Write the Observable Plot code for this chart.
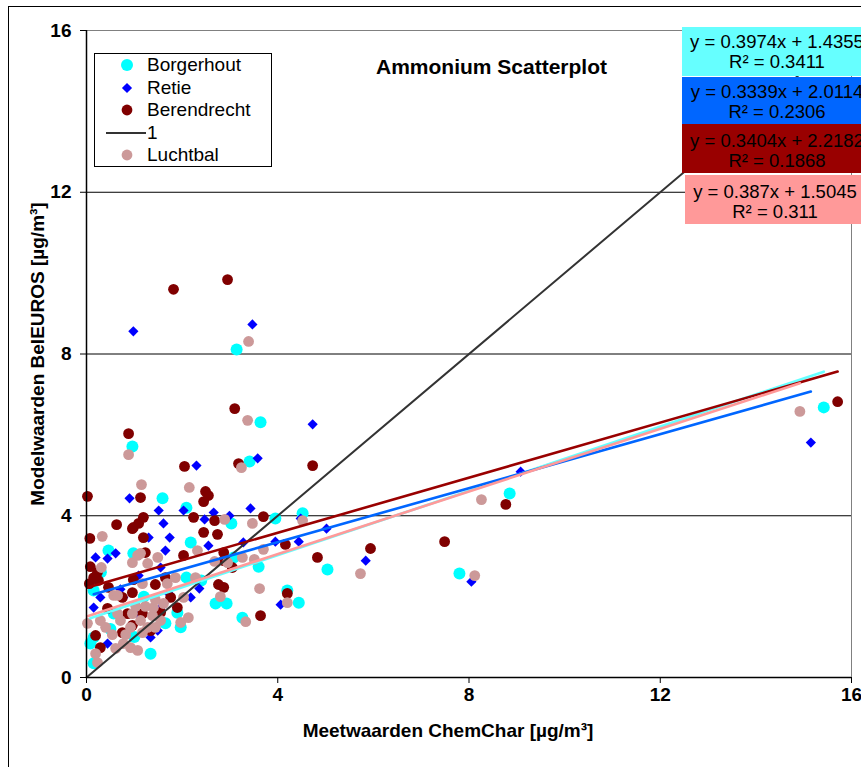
<!DOCTYPE html>
<html><head><meta charset="utf-8">
<script src="https://cdn.jsdelivr.net/npm/d3@7"></script>
<script src="https://cdn.jsdelivr.net/npm/@observablehq/plot@0.6"></script>
<style>
html,body{margin:0;padding:0;background:#fff;overflow:hidden;}
#wrap{position:relative;width:861px;height:767px;overflow:hidden;font-family:"Liberation Sans",Arial,sans-serif;}
#frame{position:absolute;left:8px;top:6px;width:900px;height:800px;border:1px solid #000;box-sizing:border-box;}
#chart{position:absolute;left:0;top:0;}
#title{position:absolute;left:376px;top:55px;font-weight:bold;font-size:21px;white-space:nowrap;}
#legend{position:absolute;left:94px;top:53px;width:178px;height:114px;border:1px solid #000;box-sizing:border-box;background:#fff;padding-top:0px;}
.lrow{height:22.5px;display:flex;align-items:center;font-size:19px;white-space:nowrap;}
.lrow svg{flex:none;}
.eq{position:absolute;text-align:center;font-size:18.5px;line-height:20px;padding-top:5px;box-sizing:border-box;white-space:nowrap;color:#000;}
</style>
</head><body>
<div id="wrap">
  <div id="frame"></div>
  <div id="chart"></div>
  <div id="title"></div>
  <div id="legend"></div>
</div>
<script>
// ---------- data ----------
const chartTitle = "Ammonium Scatterplot";
const xLabel = "Meetwaarden ChemChar [µg/m³]";
const yLabel = "Modelwaarden BelEUROS [µg/m³]";
const xTicks = [0, 4, 8, 12, 16];
const yTicks = [0, 4, 8, 12, 16];
const gridY = [4, 8, 12];
const identityRange = [0, 16]; // series "1": y = x

const seriesNames = ["Borgerhout", "Retie", "Berendrecht", "Luchtbal"];
const dotColors = ["#00ffff", "#0000ff", "#800000", "#cc9999"];
const lineColors = ["#66ffff", "#0066ff", "#990000", "#ff9999"];
const slopes = [0.3974, 0.3339, 0.3404, 0.387];
const intercepts = [1.4355, 2.0114, 2.2182, 1.5045];
const rSquared = ["0.3411", "0.2306", "0.1868", "0.311"];

const borgerhout = [[3.14,8.11],[3.64,6.31],[0.96,5.71],[3.41,5.34],[1.59,4.43],[2.09,4.2],[3.03,3.81],[3.95,3.93],[4.52,4.06],[15.42,6.68],[8.85,4.55],[7.8,2.57],[5.04,2.67],[2.18,3.34],[0.46,3.14],[0.98,3.07],[3.08,2.97],[3.6,2.74],[0.15,2.15],[2.7,1.83],[2.93,1.83],[3.26,1.48],[4.2,2.15],[4.44,1.85],[0.15,0.99],[1.34,0.59],[0.08,0.84],[0.15,0.35],[1.65,1.34],[2.09,2.47],[0.57,1.58],[0.5,1.2],[1.0,1.0],[1.9,1.6],[2.4,2.4],[0.3,2.6],[1.2,2.0],[1.97,1.24]];
const retie = [[0.98,8.56],[3.47,8.73],[4.73,6.26],[2.3,5.24],[3.58,5.42],[0.9,4.43],[2.03,4.13],[1.51,4.13],[1.61,3.81],[2.47,3.91],[2.66,4.08],[2.99,4.0],[3.43,4.18],[4.48,3.93],[15.15,5.81],[9.08,5.09],[8.05,2.37],[5.02,3.68],[5.84,2.89],[4.06,1.8],[1.3,3.46],[1.74,3.46],[2.55,3.26],[3.28,3.34],[3.95,3.36],[4.44,3.36],[0.61,3.07],[0.19,2.97],[0.44,2.94],[1.65,3.14],[0.71,2.18],[1.09,2.52],[2.18,1.98],[2.36,2.2],[0.15,1.73],[0.77,1.98],[1.61,1.83],[1.49,1.16],[1.34,0.99],[0.44,0.84],[1.55,1.73],[1.72,2.08],[1.07,1.58],[1.55,2.72],[0.29,1.98]];
const berendrecht = [[1.82,9.6],[2.95,9.84],[3.1,6.65],[0.88,6.03],[2.05,5.22],[3.18,5.29],[4.73,5.24],[0.02,4.48],[1.13,4.45],[2.49,4.6],[2.55,4.5],[2.45,4.35],[0.63,3.78],[0.98,3.71],[1.09,3.81],[1.19,3.96],[2.24,3.96],[2.68,3.88],[3.7,3.98],[15.71,6.82],[8.77,4.28],[7.49,3.36],[4.83,2.97],[5.94,3.19],[3.64,1.53],[4.2,2.08],[0.07,3.44],[0.96,3.68],[1.19,3.46],[2.45,3.59],[2.74,3.54],[4.16,3.29],[1.23,3.09],[2.03,3.02],[2.87,3.09],[2.87,2.89],[3.05,2.72],[0.08,2.74],[0.15,2.47],[0.23,2.6],[0.25,2.4],[0.46,2.23],[0.98,2.42],[1.44,2.3],[1.65,2.47],[1.9,1.73],[2.76,2.3],[2.87,2.23],[0.75,1.98],[0.86,1.58],[0.96,1.29],[0.75,1.11],[0.29,0.74],[0.19,1.04],[1.17,1.58],[1.76,1.98],[1.55,1.61],[0.44,1.71],[0.96,2.1],[1.34,1.16],[0.06,2.32]];
const luchtbal = [[3.39,8.31],[3.37,6.36],[0.88,5.51],[3.24,5.19],[1.15,4.77],[2.15,4.7],[2.89,3.91],[3.47,3.81],[4.52,3.88],[14.92,6.58],[8.26,4.4],[8.12,2.52],[5.73,2.57],[0.33,3.49],[1.13,3.07],[1.49,2.97],[0.96,2.84],[1.28,2.82],[2.32,3.14],[2.68,2.87],[2.95,2.84],[3.26,2.97],[3.51,2.92],[3.7,3.17],[0.31,2.72],[0.57,2.03],[1.17,2.32],[1.69,2.32],[1.86,2.47],[2.03,1.98],[2.28,2.47],[2.8,2.0],[3.33,1.38],[3.62,2.2],[4.2,1.85],[0.23,0.37],[0.19,0.59],[0.02,1.34],[0.29,1.41],[0.4,1.24],[0.54,1.06],[0.61,0.72],[0.77,0.84],[0.82,1.06],[0.92,0.74],[1.07,0.67],[0.71,1.41],[0.65,1.58],[0.92,1.24],[1.13,1.41],[1.17,1.11],[1.28,1.24],[1.38,1.53],[1.4,1.73],[1.23,1.76],[0.96,1.58],[1.03,1.76],[1.44,1.24],[1.55,1.41],[1.61,1.83],[1.97,1.36],[2.13,1.48],[0.65,2.03],[1.44,1.93],[1.07,3.02]];

const seriesData = [borgerhout, retie, berendrecht, luchtbal];
const symbols = ["circle", "diamond2", "circle", "circle"];
const radii = [6, 4.6, 5.4, 5.4];

// ---------- chart ----------
const marks = [
  Plot.ruleY(gridY, {stroke: "#000", strokeWidth: 1}),
  Plot.ruleY([yTicks[yTicks.length - 1]], {stroke: "#808080", strokeWidth: 1}),
  Plot.ruleX([xTicks[xTicks.length - 1]], {stroke: "#808080", strokeWidth: 1})
];
seriesData.forEach((pts, i) => {
  marks.push(Plot.dot(pts, {x: d => d[0], y: d => d[1], fill: dotColors[i], r: radii[i], symbol: symbols[i], stroke: "none"}));
});
marks.push(Plot.line(identityRange, {x: d => d, y: d => d, stroke: "#333", strokeWidth: 2}));
seriesData.forEach((pts, i) => {
  const xs = d3.extent(pts, d => d[0]);
  marks.push(Plot.line(xs, {x: d => d, y: d => slopes[i] * d + intercepts[i], stroke: lineColors[i], strokeWidth: 2.6}));
});
marks.push(
  Plot.ruleX([0], {stroke: "#000", strokeWidth: 1.5}),
  Plot.ruleY([0], {stroke: "#000", strokeWidth: 1.5}),
  Plot.axisX({ticks: xTicks, tickSize: 6, tickPadding: 4, label: null, tickFormat: d => String(d)}),
  Plot.axisY({ticks: yTicks, tickSize: 6, tickPadding: 9, tickFormat: d => String(d), label: yLabel, labelAnchor: "center", labelArrow: "none", labelOffset: 56}),
  Plot.text([xLabel], {text: d => d, frameAnchor: "bottom", dx: -21, dy: 53, lineAnchor: "middle"})
);

const chart = Plot.plot({
  width: 861, height: 767,
  marginLeft: 86, marginRight: 10, marginTop: 30, marginBottom: 90,
  x: {domain: [0, 16]},
  y: {domain: [0, 16]},
  style: {fontFamily: '"Liberation Sans", Arial, sans-serif', fontSize: "19px", fontWeight: "bold", color: "#000", background: "transparent", overflow: "visible"},
  marks
});
document.getElementById("chart").appendChild(chart);

document.getElementById("title").textContent = chartTitle;

// ---------- legend ----------
const legendOrder = [
  {name: seriesNames[0], type: "dot", i: 0},
  {name: seriesNames[1], type: "dot", i: 1},
  {name: seriesNames[2], type: "dot", i: 2},
  {name: "1", type: "line"},
  {name: seriesNames[3], type: "dot", i: 3}
];
const legend = document.getElementById("legend");
legendOrder.forEach(item => {
  const row = document.createElement("div");
  row.className = "lrow";
  const ns = "http://www.w3.org/2000/svg";
  const svg = document.createElementNS(ns, "svg");
  svg.setAttribute("width", "52"); svg.setAttribute("height", "22");
  if (item.type === "line") {
    const l = document.createElementNS(ns, "line");
    l.setAttribute("x1", 11); l.setAttribute("x2", 51); l.setAttribute("y1", 11); l.setAttribute("y2", 11);
    l.setAttribute("stroke", "#333"); l.setAttribute("stroke-width", 2);
    svg.appendChild(l);
  } else {
    const sym = item.i === 1 ? d3.symbolDiamond2 : d3.symbolCircle;
    const r = radii[item.i];
    const p = document.createElementNS(ns, "path");
    p.setAttribute("d", d3.symbol(sym, Math.PI * r * r)());
    p.setAttribute("transform", "translate(32,11)");
    p.setAttribute("fill", dotColors[item.i]);
    svg.appendChild(p);
  }
  row.appendChild(svg);
  const t = document.createElement("span");
  t.textContent = item.name;
  row.appendChild(t);
  legend.appendChild(row);
});

// ---------- regression equation labels ----------
const boxLefts = [682, 682, 682, 685];
const boxTops = [27, 77, 124, 175];
const boxHeights = [49, 47, 49, 49];
const boxWidths = [190, 190, 190, 180];
const wrap = document.getElementById("wrap");
seriesNames.forEach((name, i) => {
  const b = document.createElement("div");
  b.className = "eq";
  b.style.left = boxLefts[i] + "px";
  b.style.top = boxTops[i] + "px";
  b.style.width = boxWidths[i] + "px";
  b.style.height = boxHeights[i] + "px";
  b.style.background = lineColors[i];
  if (i >= 2) b.style.paddingTop = "7px";
  b.innerHTML = "";
  const l1 = document.createElement("div");
  l1.textContent = "y = " + slopes[i] + "x + " + intercepts[i];
  const l2 = document.createElement("div");
  l2.textContent = "R² = " + rSquared[i];
  b.appendChild(l1); b.appendChild(l2);
  wrap.appendChild(b);
});
</script>
</body></html>
